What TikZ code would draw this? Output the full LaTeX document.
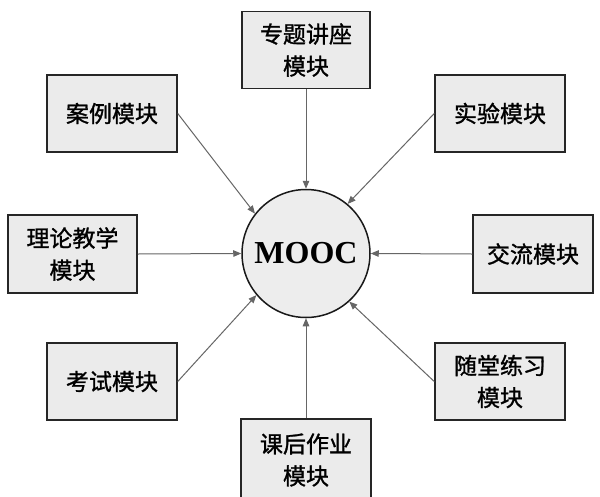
\documentclass[tikz,border=0pt]{standalone}
\usepackage{fontspec}
\setmainfont{Liberation Serif}
\newfontfamily\cjk[FakeBold=1.2]{Noto Sans CJK SC}
\usetikzlibrary{arrows.meta}
\begin{document}
\begin{tikzpicture}[x=1pt,y=-1pt,
  modbox/.style={draw=black!85, line width=1.5pt, fill=black!8,
    minimum width=130pt, minimum height=77pt, inner sep=0pt, align=center,
    font=\cjk\fontsize{23}{32}\selectfont},
  hub/.style={circle, draw=black!90, line width=1.5pt, fill=black!7,
    minimum size=128pt, inner sep=0pt,
    font=\bfseries\fontsize{32}{36}\selectfont},
  conn/.style={draw=black!60, line width=1pt,
    -{Triangle[length=8pt,width=6.5pt]}}]
\useasboundingbox (0,0) rectangle (600,496);
\fill[white] (0,0) rectangle (600,496);
\clip (0,0) rectangle (600,496);

\node[hub] (m) at (306,253.5) {MOOC};

\node[modbox, minimum width=128pt] (zt) at (306,50) {专题讲座\\模块};
\node[modbox] (al) at (112,113.5) {案例模块};
\node[modbox] (sy) at (500,113.5) {实验模块};
\node[modbox, minimum width=129pt, minimum height=78pt] (ll) at (72.5,254) {理论教学\\模块};
\node[modbox, minimum width=120pt, minimum height=78pt] (jl) at (533,254) {交流模块};
\node[modbox] (ks) at (112,381.5) {考试模块};
\node[modbox] (st) at (500,381.5) {随堂练习\\模块};
\node[modbox, minimum height=82pt] (kh) at (306,460) {课后作业\\模块};

\draw[conn] (zt.south) -- (m.north);
\draw[conn] (kh.north) -- (m.south);
\draw[conn] (ll.east) -- (m.west);
\draw[conn] (jl.west) -- (m.east);
\draw[conn] (al.east) -- (m.142.6);
\draw[conn] (sy.west) -- (m.50.3);
\draw[conn] (ks.east) -- (m.220.4);
\draw[conn] (st.west) -- (m.312.9);
\end{tikzpicture}
\end{document}
